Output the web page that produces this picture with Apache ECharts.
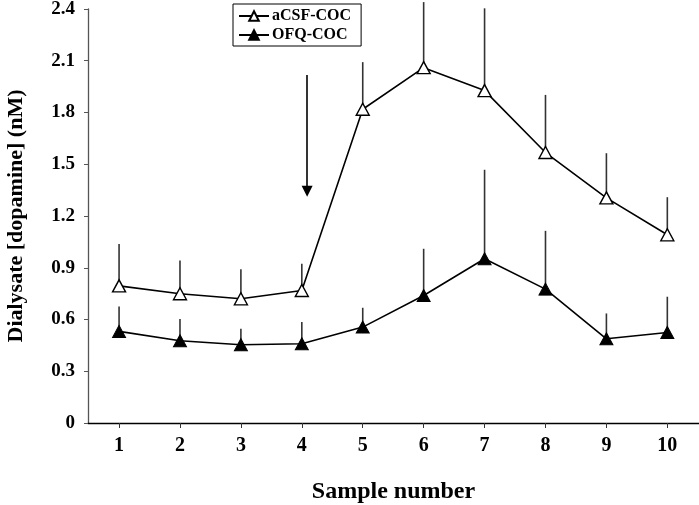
<!DOCTYPE html>
<html>
<head>
<meta charset="utf-8">
<script src="https://cdn.jsdelivr.net/npm/echarts@6/dist/echarts.min.js"></script>
<style>
html,body{margin:0;padding:0;background:#fff;}
#chart{width:699px;height:505px;}
</style>
</head>
<body>
<div id="chart"></div>
<script>
var samples = [1, 2, 3, 4, 5, 6, 7, 8, 9, 10];
var acsfMean = [0.795, 0.749, 0.720, 0.768, 1.819, 2.060, 1.927, 1.568, 1.305, 1.091];
var acsfTop  = [1.037, 0.942, 0.892, 0.923, 2.092, 2.440, 2.404, 1.902, 1.564, 1.309];
var ofqMean  = [0.531, 0.477, 0.454, 0.459, 0.556, 0.739, 0.952, 0.776, 0.488, 0.525];
var ofqTop   = [0.676, 0.603, 0.546, 0.585, 0.668, 1.010, 1.468, 1.114, 0.635, 0.732];
var yTicks = [0, 0.3, 0.6, 0.9, 1.2, 1.5, 1.8, 2.1, 2.4];
var arrowX = 4.087;
var arrowTopY = 2.018;
var arrowTipY = 1.323;

var FONT = '"Liberation Serif", "Times New Roman", serif';

function pts(xs, ys) { return xs.map(function (x, i) { return [x, ys[i]]; }); }
function errData(xs, m, t) { return xs.map(function (x, i) { return [x, m[i], t[i]]; }); }

function errRender(params, api) {
  var p0 = api.coord([api.value(0), api.value(1)]);
  var p1 = api.coord([api.value(0), api.value(2)]);
  return {
    type: 'line',
    shape: { x1: p0[0], y1: p0[1], x2: p1[0], y2: p1[1] },
    style: { stroke: '#333', lineWidth: 1.6 }
  };
}

var chart = echarts.init(document.getElementById('chart'), null, { renderer: 'canvas' });
chart.setOption({
  animation: false,
  backgroundColor: '#fff',
  grid: { left: 88, right: 0, top: 9, bottom: 82, containLabel: false, outerBoundsMode: 'none' },
  legend: {
    orient: 'vertical',
    left: 233,
    top: 4,
    data: ['aCSF-COC', 'OFQ-COC'],
    borderColor: '#000',
    borderWidth: 1,
    padding: [4, 10, 3, 5],
    itemGap: 3,
    itemWidth: 30,
    itemHeight: 12,
    textStyle: { fontFamily: FONT, fontWeight: 'bold', fontSize: 16, color: '#000', padding: [0, 0, 0, -2] }
  },
  xAxis: {
    type: 'value',
    min: 0.49,
    max: 10.52,
    name: 'Sample number',
    nameLocation: 'middle',
    nameGap: 57,
    nameTextStyle: { fontFamily: FONT, fontWeight: 'bold', fontSize: 24, color: '#000' },
    axisLine: { show: true, lineStyle: { color: '#000', width: 1.3 } },
    axisTick: { show: true, length: 5, lineStyle: { color: '#333' }, customValues: samples },
    axisLabel: { customValues: samples, margin: 13, fontFamily: FONT, fontWeight: 'bold', fontSize: 20, color: '#000' },
    splitLine: { show: false }
  },
  yAxis: {
    type: 'value',
    min: 0,
    max: 2.4,
    interval: 0.3,
    name: 'Dialysate [dopamine] (nM)',
    nameLocation: 'middle',
    nameGap: 61,
    nameTextStyle: { fontFamily: FONT, fontWeight: 'bold', fontSize: 22, color: '#000' },
    axisLine: { show: true, lineStyle: { color: '#555', width: 1.3 } },
    axisTick: { show: true, length: 4, lineStyle: { color: '#555' }, customValues: yTicks },
    axisLabel: {
      customValues: yTicks,
      margin: 13,
      fontFamily: FONT, fontWeight: 'bold', fontSize: 19, color: '#000',
      formatter: function (v) { return v === 0 ? '0' : (+v).toFixed(1); }
    },
    splitLine: { show: false }
  },
  series: [
    {
      type: 'custom',
      name: 'aCSF err',
      renderItem: errRender,
      data: errData(samples, acsfMean, acsfTop),
      encode: { x: 0, y: [1, 2] },
      clip: false,
      z: 1,
      silent: true
    },
    {
      type: 'custom',
      name: 'OFQ err',
      renderItem: errRender,
      data: errData(samples, ofqMean, ofqTop),
      encode: { x: 0, y: [1, 2] },
      clip: false,
      z: 1,
      silent: true
    },
    {
      type: 'line',
      name: 'aCSF-COC',
      data: pts(samples, acsfMean),
      symbol: 'triangle',
      symbolSize: [13, 12],
      lineStyle: { color: '#000', width: 1.6 },
      itemStyle: { color: '#fff', borderColor: '#000', borderWidth: 1.4 },
      z: 3,
      markLine: {
        silent: true,
        symbol: ['none', 'triangle'],
        symbolSize: [11, 11],
        label: { show: false },
        lineStyle: { color: '#000', width: 1.6, type: 'solid' },
        data: [[{ coord: [arrowX, arrowTopY] }, { coord: [arrowX, arrowTipY + 0.02] }]]
      }
    },
    {
      type: 'line',
      name: 'OFQ-COC',
      data: pts(samples, ofqMean),
      symbol: 'triangle',
      symbolSize: [13, 12],
      lineStyle: { color: '#000', width: 1.6 },
      itemStyle: { color: '#000', borderColor: '#000', borderWidth: 1 },
      z: 3
    }
  ]
});
</script>
</body>
</html>
